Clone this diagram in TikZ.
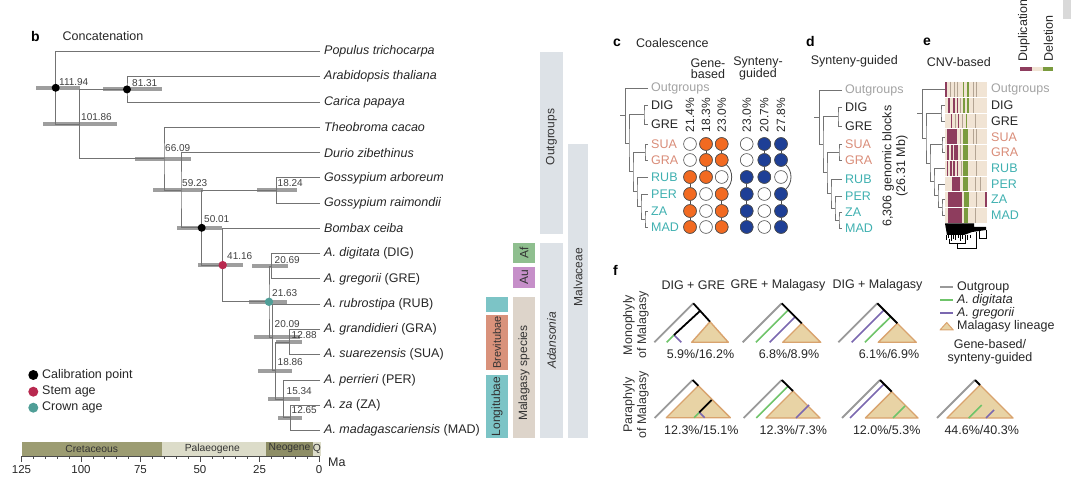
\documentclass[tikz,border=0pt]{standalone}
\usepackage{fontspec}
\setmainfont{Liberation Sans}
\usetikzlibrary{calc}

\definecolor{stemred}{HTML}{B8294F}
\definecolor{crownteal}{HTML}{4F9E97}
\definecolor{barblue}{HTML}{DDE2E7}
\definecolor{malbeige}{HTML}{DDD4CA}
\definecolor{afgreen}{HTML}{8FBF8F}
\definecolor{aupurple}{HTML}{C68FC9}
\definecolor{brevisalmon}{HTML}{D9927B}
\definecolor{longiteal}{HTML}{7CC4C6}
\definecolor{txtsalmon}{HTML}{D98C78}
\definecolor{txtteal}{HTML}{3FB0B0}
\definecolor{txtdark}{HTML}{262626}
\definecolor{outgray}{HTML}{A3A3A3}
\definecolor{genorange}{HTML}{F26A21}
\definecolor{synblue}{HTML}{1E3F96}
\definecolor{cnvbg}{HTML}{F1E4D4}
\definecolor{cnvgrey}{HTML}{B3A493}
\definecolor{dupmaroon}{HTML}{8E3D5E}
\definecolor{delgreen}{HTML}{7A9B3E}
\definecolor{fgreen}{HTML}{6FC46A}
\definecolor{fpurple}{HTML}{7B68B0}
\definecolor{lintan}{HTML}{E8D3A5}
\definecolor{linedge}{HTML}{D9A36E}
\definecolor{cretol}{HTML}{9C9C72}
\definecolor{palae}{HTML}{DCDCC9}
\definecolor{neog}{HTML}{8E8E66}

\tikzset{
  branch/.style={draw=black!55, line width=0.9pt},
  hpd/.style={draw=black!38, line width=4pt},
  agelab/.style={font=\fontsize{10}{11}\selectfont, text=black!75, anchor=west, inner sep=0pt},
  taxon/.style={font=\fontsize{12.5}{13}\selectfont, anchor=west, inner sep=0pt},
  paneltag/.style={font=\fontsize{14}{15}\selectfont\bfseries, anchor=west, inner sep=0pt},
  heading/.style={font=\fontsize{12.5}{13}\selectfont, anchor=west, inner sep=0pt, text=txtdark},
  barlab/.style={font=\fontsize{12}{12}\selectfont, rotate=90, inner sep=0pt, text=black!80},
  geolab/.style={font=\fontsize{10.3}{11}\selectfont, inner sep=0pt, text=black!80},
  clade/.style={draw=black!55, line width=0.8pt},
  circ/.style={circle, draw=black!70, line width=0.6pt, minimum size=12.8pt, inner sep=0pt, fill=white},
  link/.style={draw=black!70, line width=0.8pt},
  pct/.style={font=\fontsize{12}{12}\selectfont, rotate=90, inner sep=0pt, text=txtdark},
  ogline/.style={draw=black!40, line width=1.8pt},
  digline/.style={draw=fgreen, line width=1.6pt},
  greline/.style={draw=fpurple, line width=1.6pt},
  stemline/.style={draw=black, line width=1.8pt},
  lineage/.style={fill=lintan, draw=linedge, line width=1.4pt, line join=round},
}

% small cladogram drawn to the left of the labels #1Outgroups ... #1MAD
\newcommand{\cladetree}[2]{%
  \foreach \t [count=\k] in {Outgroups,DIG,GRE,SUA,GRA,RUB,PER,ZA,MAD}
    \coordinate (#1\k) at ([xshift=-#2]#1\t.west);
  \coordinate (#1DG) at ($(#12)!0.5!(#13)+(-4,0)$);
  \coordinate (#1SG) at ($(#14)!0.5!(#15)+(-3,0)$);
  \coordinate (#1ZM) at ($(#18)!0.5!(#19)+(-3,0)$);
  \coordinate (#1PZM) at ($(#17)!0.5!(#1ZM)+(-5.5,0)$);
  \coordinate (#1RP) at ($(#16)!0.5!(#1PZM)+(-7.5,0)$);
  \coordinate (#1Mal) at ($(#1SG)!0.5!(#1RP)+(-8,0)$);
  \coordinate (#1In) at ($(#1DG)!0.5!(#1Mal)+(-9.5,0)$);
  \coordinate (#1Root) at ($(#11)!0.5!(#1In)+(-13,0)$);
  \foreach \n/\a/\b in {DG/2/3, SG/4/5, ZM/8/9, PZM/7/ZM, RP/6/PZM, Mal/SG/RP, In/DG/Mal, Root/1/In}
    \draw[clade] (#1\a) -| (#1\n) |- (#1\b);
  \draw[clade] (#1Root) -- ++(-5.5,0);
}

\begin{document}
\begin{tikzpicture}[x=1pt,y=-1pt]
    \useasboundingbox (0,0) rectangle (1080,489);

    % Panel b: dated concatenation tree
    \node[paneltag] (tagb) at (31,36) {b};
    \node[heading] (concat) at (62.5,36) {Concatenation};

    \foreach \sp [count=\i from 0] in {{\itshape Populus trichocarpa},{\itshape Arabidopsis thaliana},{\itshape Carica papaya},{\itshape Theobroma cacao},{\itshape Durio zibethinus},{\itshape Gossypium arboreum},{\itshape Gossypium raimondii},{\itshape Bombax ceiba},{{\itshape A. digitata} (DIG)},{{\itshape A. gregorii} (GRE)},{{\itshape A. rubrostipa} (RUB)},{{\itshape A. grandidieri} (GRA)},{{\itshape A. suarezensis} (SUA)},{{\itshape A. perrieri} (PER)},{{\itshape A. za} (ZA)},{{\itshape A. madagascariensis} (MAD)}} {
        \coordinate (t\i) at (320,{51.5+25.27*\i});
        \node[taxon, text=txtdark] (lab\i) at (324,{51.5+25.27*\i}) {\sp};
    }

    % internal nodes
    \coordinate (nR) at (55.7,87.79);
    \coordinate (n101) at (79.3,124.08);
    \coordinate (n81) at (127,89.4);
    \coordinate (n66) at (164,158.75);
    \coordinate (n59) at (181,190.19);
    \coordinate (nGos) at (276.7,190.49);
    \coordinate (n50) at (201.7,227.8);
    \coordinate (n41) at (222.7,265.11);
    \coordinate (n21) at (269,301.83);
    \coordinate (nDG) at (271.7,266.3);
    \coordinate (n2009) at (272.6,337.37);
    \coordinate (n1886) at (275.5,370.53);
    \coordinate (nBrev) at (289.6,342.1);
    \coordinate (nLong) at (283.8,398.96);
    \coordinate (nZM) at (290.1,417.9);

    % 95% intervals
    \foreach \n/\lo/\hi in {nR/-19.7/24.3, n101/-36.3/37.7, n81/-24/35, n66/-29/27, n59/-28/22, nGos/-19.7/20.3, n50/-24.7/20.3, n41/-24.7/20.3, nDG/-19.7/16.3, n21/-20/18, n2009/-18.6/27.4, nBrev/-13.6/12.4, n1886/-17.5/16.5, nLong/-15.8/16.2, nZM/-12.1/11.9}
        \draw[hpd] ([xshift=\lo pt]\n) -- ([xshift=\hi pt]\n);

    % branches
    \foreach \n/\a/\b in {nR/t0/n101, n101/n81/n66, n81/t1/t2, n66/t3/n59, n59/t4/n50, n50/nGos/n41, nGos/t5/t6, n41/t7/n21, n21/nDG/n2009, nDG/t8/t9, n2009/t10/n1886, n1886/nBrev/nLong, nBrev/t11/t12, nLong/t13/nZM, nZM/t14/t15}
        \draw[branch] (\a) -| (\n) |- (\b);

    \foreach \n in {nR,n81,n50}
        \fill[black] (\n) circle (4pt);
    \fill[stemred] (n41) circle (4.2pt);
    \fill[crownteal] (n21) circle (4.2pt);

    \foreach \txt/\x/\y [count=\k] in {111.94/59/82, 81.31/132/83, 101.86/81/117.5, 66.09/165/148, 59.23/182/183.5, 18.24/277.5/183.5, 50.01/204/219.5, 41.16/227/256, 20.69/274.5/260.5, 21.63/272/293, 20.09/274.5/324, 12.88/291.5/335.5, 18.86/277.5/362, 15.34/286.5/391.5, 12.65/291.5/410}
        \node[agelab] (age\k) at (\x,\y) {\txt};

    % legend
    \fill[black] (33.3,375) circle (5pt);
    \node[taxon, text=txtdark] (legcal) at (42,375) {Calibration point};
    \fill[stemred] (33.3,391.7) circle (5pt);
    \node[taxon, text=txtdark] (legstem) at (42,391.7) {Stem age};
    \fill[crownteal] (33.3,407.7) circle (5pt);
    \node[taxon, text=txtdark] (legcrown) at (42,407.7) {Crown age};

    % geological time scale
    \fill[cretol] (21.5,441.5) rectangle (162.3,455.5);
    \fill[palae] (162.3,441.5) rectangle (266,455.5);
    \fill[neog] (266,441.5) rectangle (313.3,455.5);
    \fill[palae] (313.3,441.5) rectangle (320.5,455.5);
    \node[geolab] (cret) at (91.7,448.5) {Cretaceous};
    \node[geolab] (pal) at (212.3,448.5) {Palaeogene};
    \node[geolab] (neo) at (289.5,448.5) {Neogene};
    \node[geolab] (quat) at (316.9,448.5) {Q};

    \draw[black!70, line width=0.8pt] (21.5,456) -- (319,456);
    \foreach \a in {0,5,...,125}
        \draw[black!70, line width=0.7pt] ({319-2.38*\a},456) -- ++(0,3);
    \foreach \a in {0,25,...,125} {
        \draw[black!70, line width=0.8pt] ({319-2.38*\a},456) -- ++(0,6);
        \node[font=\fontsize{11.5}{12}\selectfont, text=txtdark, inner sep=0pt] (tick\a) at ({319-2.38*\a},470) {\a};
    }
    \node[taxon, text=txtdark] (ma) at (328,462) {Ma};

    % clade bars
    \fill[barblue] (540,51.7) rectangle (563,234);
    \node[barlab] (outgrp) at (551.5,137) {Outgroups};
    \fill[barblue] (567.7,144) rectangle (588,438);
    \node[barlab] (malv) at (578,277) {Malvaceae};
    \fill[barblue] (540,243) rectangle (563,438);
    \node[barlab] (adan) at (551.5,340.5) {\itshape Adansonia};
    \fill[malbeige] (512.7,296.7) rectangle (535,438);
    \node[barlab] (malsp) at (524,373) {Malagasy species};
    \fill[afgreen] (512.7,243) rectangle (535,263);
    \node[barlab] (af) at (524,253) {Af};
    \fill[aupurple] (512.7,266.7) rectangle (535,287.7);
    \node[barlab] (au) at (524,277) {Au};
    \fill[longiteal] (485.7,296.7) rectangle (508,311.7);
    \fill[brevisalmon] (485.7,315) rectangle (508,370);
    \node[barlab, font=\fontsize{11}{11}\selectfont] (brevi) at (497,342.5) {Brevitubae};
    \fill[longiteal] (485.7,375) rectangle (508,438);
    \node[barlab] (longi) at (497,406.5) {Longitubae};

    % Panel c: coalescence
    \node[paneltag] (tagc) at (613,42.7) {c};
    \node[heading] (coal) at (636,42.7) {Coalescence};
    \node[heading, anchor=center, align=center, font=\fontsize{12.5}{11}\selectfont] (genebased) at (708,68.5) {Gene-\\based};
    \node[heading, anchor=center, align=center, font=\fontsize{12.5}{11}\selectfont] (syntguided) at (758,68.5) {Synteny-\\guided};

    \foreach \t/\y/\col in {Outgroups/88/outgray, DIG/105/txtdark, GRE/124/txtdark, SUA/144/txtsalmon, GRA/160/txtsalmon, RUB/177/txtteal, PER/194/txtteal, ZA/211/txtteal, MAD/227/txtteal}
        \node[taxon, text=\col] (c\t) at (651,\y) {\t};
    \cladetree{c}{3pt}

    \foreach \x/\p [count=\k] in {690/21.4, 706/18.3, 721.7/23.0, 746.7/23.0, 764.3/20.7, 781/27.8}
        \node[pct] (pc\k) at (\x,115) {\p\%};

    \foreach \c/\x in {1/690, 2/706, 3/721.7}
        \foreach \r/\y in {1/144, 2/160, 3/177, 4/194, 5/211, 6/227}
            \node[circ] (g\c\r) at (\x,\y) {};
    \foreach \c/\x in {1/746.7, 2/764.3, 3/781}
        \foreach \r/\y in {1/144, 2/160, 3/177, 4/194, 5/211, 6/227}
            \node[circ] (s\c\r) at (\x,\y) {};

    \foreach \m in {g,s} {
        \draw[link] (\m13) -- (\m14) -- (\m15) -- (\m16);
        \draw[link] (\m21) -- (\m22) -- (\m23);
        \draw[link] (\m31) -- (\m32);
        \draw[link] (\m34) -- (\m35) -- (\m36);
        \draw[link] (\m32.south east) .. controls +(7,6) and +(7,-6) .. (\m34.north east);
    }
    \foreach \n in {13,14,15,16,21,22,23,31,32,34,35,36} {
        \node[circ, fill=genorange] (fg\n) at (g\n) {};
        \node[circ, fill=synblue] (fs\n) at (s\n) {};
    }

    % Panel d: synteny-guided
    \node[paneltag] (tagd) at (806,41.7) {d};
    \node[heading] (synt) at (810.7,61.7) {Synteny-guided};
    \foreach \t/\y/\col in {Outgroups/90/outgray, DIG/107/txtdark, GRE/126/txtdark, SUA/144.5/txtsalmon, GRA/160/txtsalmon, RUB/179/txtteal, PER/196/txtteal, ZA/212/txtteal, MAD/228/txtteal}
        \node[taxon, text=\col] (d\t) at (845,\y) {\t};
    \cladetree{d}{3pt}
    \node[pct, align=center, font=\fontsize{12.5}{13.7}\selectfont] (blocks) at (895,166) {6,306 genomic blocks\\(26.31 Mb)};

    % Panel e: CNV-based
    \node[paneltag] (tage) at (923,41.7) {e};
    \node[heading] (cnv) at (926.7,61.7) {CNV-based};
    \node[pct, anchor=west, font=\fontsize{12.5}{13}\selectfont] (dup) at (1024,61.7) {Duplication};
    \node[pct, anchor=west, font=\fontsize{12.5}{13}\selectfont] (del) at (1048.3,61.7) {Deletion};
    \fill[dupmaroon] (1020,67.5) rectangle (1031.7,71);
    \fill[cnvbg] (1031.7,67.5) rectangle (1043.3,71);
    \fill[delgreen] (1043.3,67.5) rectangle (1053.3,71);
    \fill[black!15] (1063,0) rectangle (1071,19);

    \fill[cnvbg] (945,81.7) rectangle (986.7,223.3);
    \foreach \r/\a/\b in {0/945/947.3, 1/948.3/950.3, 1/953.3/955, 1/956.7/957.7, 2/950.7/952.3, 2/958.3/959.3, 3/946.7/956.7, 4/946.7/949, 4/951/952.7, 4/954.3/957.7, 5/946.7/948.3, 5/950/951.7, 5/953/955, 5/957/958.3, 6/951.7/960, 7/948.3/961.7, 7/985/986.7, 8/948.3/961.7}
        \fill[dupmaroon] (\a,{81.7+15.73*\r}) rectangle (\b,{81.7+15.73*(\r+1)});
    \foreach \r/\a/\b in {0/963.3/964.3, 0/966.7/967.7, 0/968.3/969, 1/963.3/965, 1/967.3/969, 2/965.7/966.5, 3/963.3/968.3, 4/963.3/967.7, 5/963.3/968.3, 6/963.3/968.3, 7/964.3/969, 8/964.3/968.3}
        \fill[delgreen] (\a,{81.7+15.73*\r}) rectangle (\b,{81.7+15.73*(\r+1)});
    \foreach \r/\a in {0/950, 0/954.3, 0/957.7, 0/973.3, 0/976.7, 1/960, 1/973.3, 2/955, 2/962, 2/975, 3/960, 3/973.3, 3/976.7, 4/960.5, 4/975, 5/961, 5/976.7, 6/975, 6/980, 7/976, 8/975}
        \draw[cnvgrey, line width=0.7pt] (\a,{81.7+15.73*\r}) -- ++(0,15.73);
    \foreach \r in {1,...,8}
        \draw[white, line width=0.8pt] (945,{81.7+15.73*\r}) -- (986.7,{81.7+15.73*\r});
    % column dendrogram
    \fill[black] (945,223.5) -- (974,223.5) -- (974,227) -- (986,227) -- (986,230) -- (972,232) -- (964,235) -- (947,235) -- cycle;
    \foreach \x/\h in {946/5, 948.5/3, 951/6, 953/4, 955.5/5, 958/3, 960/6, 962.5/4, 965/3, 967.5/5, 970/3}
        \draw[black, line width=0.5pt] (\x,235) -- ++(0,\h);
    \draw[black, line width=0.5pt] (949,239) -- (949,243) -- (965,243) -- (965,238);
    \draw[black, line width=0.5pt] (957,243) -- (957,248) -- (976,248) -- (976,232);
    \draw[black, line width=0.5pt] (979,231) -- (979,238) -- (986,238) -- (986,230);

    \foreach \t/\y/\col in {Outgroups/89.5/outgray, DIG/105/txtdark, GRE/121/txtdark, SUA/137/txtsalmon, GRA/152.5/txtsalmon, RUB/168/txtteal, PER/184/txtteal, ZA/199.7/txtteal, MAD/215.4/txtteal}
        \node[taxon, text=\col] (e\t) at (991,\y) {\t};
    \cladetree{e}{46pt}

    % Panel f: topologies
    \node[paneltag] (tagf) at (613,270) {f};
    \node[heading, anchor=center] (hdg1) at (693.3,285) {DIG + GRE};
    \node[heading, anchor=center] (hdg2) at (778,285) {GRE + Malagasy};
    \node[heading, anchor=center] (hdg3) at (877.5,285) {DIG + Malagasy};
    \node[barlab, align=center, font=\fontsize{12.5}{14}\selectfont] (mono) at (636,325) {Monophyly\\of Malagasy};
    \node[barlab, align=center, font=\fontsize{12.5}{14}\selectfont] (para) at (636,405) {Paraphyly\\of Malagasy};

    % monophyly, DIG + GRE
    \draw[ogline] (693.3,303.3) -- (654.3,342.3);
    \filldraw[lineage] (710,321.7) -- (691.7,342.3) -- (728.3,342.3) -- cycle;
    \draw[digline] (674,335) -- (666.7,342.3);
    \draw[greline] (674,335) -- (681.3,342.3);
    \draw[stemline] (693.3,303.3) -- (710,321.7);
    \draw[stemline] (700,311) -- (674,335);
    % monophyly, GRE + Malagasy
    \draw[ogline] (781.7,303.3) -- (742.7,342.3);
    \filldraw[lineage] (801.7,323.3) -- (782.7,342.3) -- (820.7,342.3) -- cycle;
    \draw[digline] (788.3,310) -- (756,342.3);
    \draw[greline] (795,317) -- (769.7,342.3);
    \draw[stemline] (781.7,303.3) -- (801.7,323.3);
    % monophyly, DIG + Malagasy
    \draw[ogline] (877.3,303.3) -- (838.3,342.3);
    \filldraw[lineage] (897.3,323.3) -- (878.3,342.3) -- (916.3,342.3) -- cycle;
    \draw[greline] (884,310) -- (851.7,342.3);
    \draw[digline] (890.7,316.7) -- (865,342.3);
    \draw[stemline] (877.3,303.3) -- (897.3,323.3);

    % paraphyly, DIG + GRE
    \draw[ogline] (692.7,380) -- (654.7,418);
    \filldraw[lineage] (698.3,385.7) -- (666.3,417.7) -- (730.3,417.7) -- cycle;
    \draw[digline] (699.3,412.4) -- (694,417.7);
    \draw[greline] (699.3,412.4) -- (704.6,417.7);
    \draw[stemline] (711.7,400) -- (699.3,412.4);
    \draw[stemline] (692.7,380) -- (698.3,385.7);
    % paraphyly, GRE + Malagasy
    \draw[ogline] (781.7,380) -- (743.7,418);
    \filldraw[lineage] (793,391) -- (766,418) -- (820,418) -- cycle;
    \draw[digline] (788,386.3) -- (756.3,418);
    \draw[greline] (809,405) -- (796,418);
    \draw[stemline] (781.7,380) -- (793,391);
    % paraphyly, DIG + Malagasy
    \draw[ogline] (880,380) -- (842,418);
    \filldraw[lineage] (891.7,391.7) -- (865.4,418) -- (918,418) -- cycle;
    \draw[greline] (884,384) -- (850,418);
    \draw[digline] (905,406) -- (893,418);
    \draw[stemline] (880,380) -- (891.7,391.7);
    % paraphyly, both inside
    \draw[ogline] (975,380) -- (937,418);
    \filldraw[lineage] (980,385) -- (947,418) -- (1013,418) -- cycle;
    \draw[digline] (981.7,405) -- (968.7,418);
    \draw[greline] (994,410) -- (986,418);
    \draw[stemline] (975,380) -- (980,385);

    \node[heading, anchor=center] (f1) at (700.5,354) {5.9\%/16.2\%};
    \node[heading, anchor=center] (f2) at (789,354) {6.8\%/8.9\%};
    \node[heading, anchor=center] (f3) at (889,354) {6.1\%/6.9\%};
    \node[heading, anchor=center] (f4) at (701.3,430) {12.3\%/15.1\%};
    \node[heading, anchor=center] (f5) at (793.3,430) {12.3\%/7.3\%};
    \node[heading, anchor=center] (f6) at (886.7,430) {12.0\%/5.3\%};
    \node[heading, anchor=center] (f7) at (981.7,430) {44.6\%/40.3\%};

    % legend
    \draw[ogline] (940,287.3) -- (953.3,287.3);
    \node[heading] (legog) at (957,287.3) {Outgroup};
    \draw[digline] (940,300.3) -- (953.3,300.3);
    \node[heading] (legdig) at (957,300.3) {\itshape A. digitata};
    \draw[greline] (940,313.3) -- (953.3,313.3);
    \node[heading] (leggre) at (957,313.3) {\itshape A. gregorii};
    \filldraw[lineage, line width=1pt] (946.7,322.5) -- (940,330) -- (953.3,330) -- cycle;
    \node[heading] (legmal) at (957,326.7) {Malagasy lineage};
    \node[heading, anchor=center, align=center] (legsrc) at (990,351.7) {Gene-based/\\synteny-guided};
\end{tikzpicture}
\end{document}
